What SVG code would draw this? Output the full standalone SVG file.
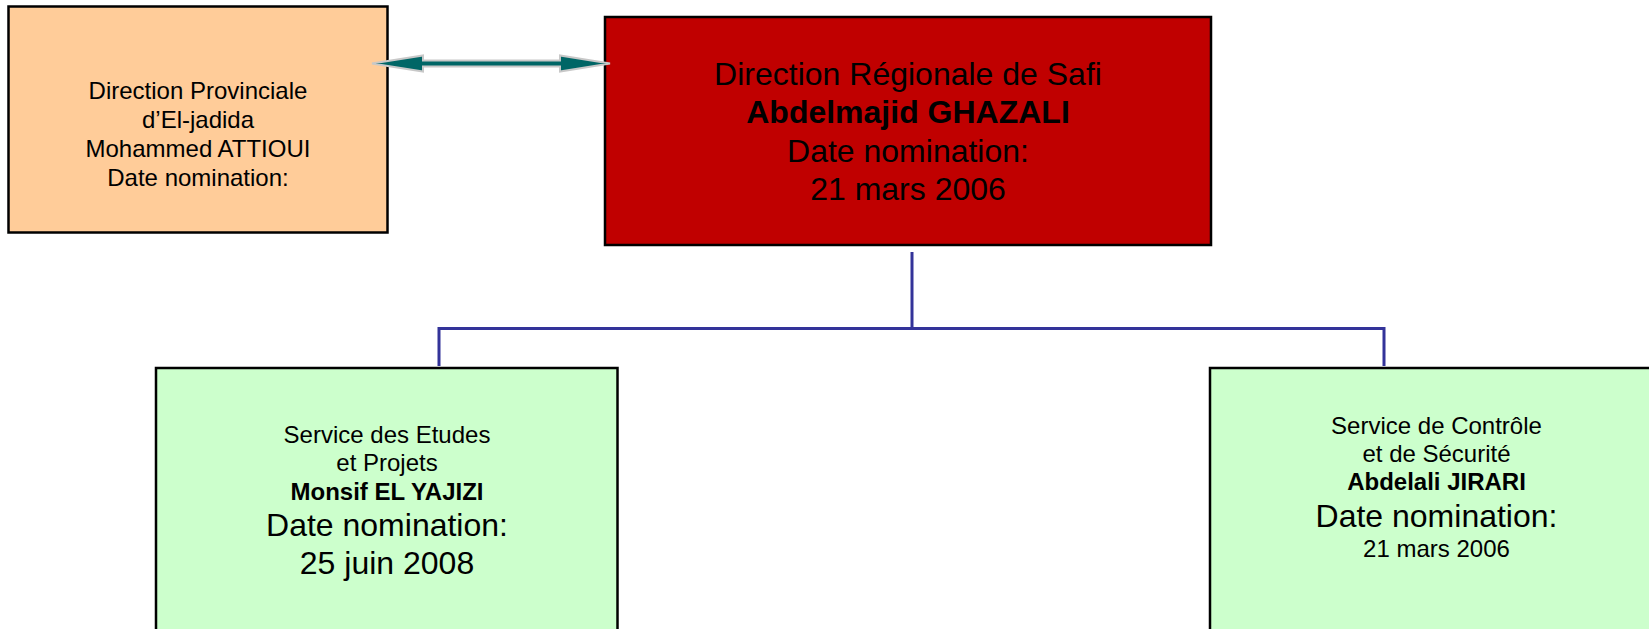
<svg xmlns="http://www.w3.org/2000/svg" width="1649" height="629" viewBox="0 0 1649 629">
<style>
.box{stroke:#000;stroke-width:2.5}
.t{font-family:"Liberation Sans",Arial,sans-serif;fill:#000;text-anchor:middle}
.s24{font-size:24px}
.s32{font-size:32px}
.b{font-weight:bold}
.conn{fill:none;stroke:#333399;stroke-width:3}
</style>
<rect width="1649" height="629" fill="#fff"/>
<g id="node-provinciale">
<rect class="box" x="8.5" y="6.5" width="379" height="226" fill="#FFCC99"/>
<text class="t s24" x="198" y="99">Direction Provinciale</text>
<text class="t s24" x="198" y="128">d’El-jadida</text>
<text class="t s24" x="198" y="157">Mohammed ATTIOUI</text>
<text class="t s24" x="198" y="185.5">Date nomination:</text>
</g>
<g id="node-regionale">
<rect class="box" x="605" y="17" width="606" height="228" fill="#C00000"/>
<text class="t s32" x="908" y="85">Direction Régionale de Safi</text>
<text class="t s32 b" x="908" y="123">Abdelmajid GHAZALI</text>
<text class="t s32" x="908" y="162">Date nomination:</text>
<text class="t s32" x="908" y="199.5">21 mars 2006</text>
</g>
<g id="node-etudes">
<rect class="box" x="156" y="368" width="461.5" height="280" fill="#CCFFCC"/>
<text class="t s24" x="387" y="442.5">Service des Etudes</text>
<text class="t s24" x="387" y="471">et Projets</text>
<text class="t s24 b" x="387" y="499.5">Monsif EL YAJIZI</text>
<text class="t s32" x="387" y="536">Date nomination:</text>
<text class="t s32" x="387" y="574">25 juin 2008</text>
</g>
<g id="node-controle">
<rect class="box" x="1210" y="368" width="454" height="280" fill="#CCFFCC"/>
<text class="t s24" x="1436.5" y="433.5">Service de Contrôle</text>
<text class="t s24" x="1436.5" y="462">et de Sécurité</text>
<text class="t s24 b" x="1436.5" y="490">Abdelali JIRARI</text>
<text class="t s32" x="1436.5" y="527">Date nomination:</text>
<text class="t s24" x="1436.5" y="557">21 mars 2006</text>
</g>
<g id="connectors">
<polyline class="conn" points="912,252 912,328.5"/>
<polyline class="conn" points="439,366 439,328.5 1384,328.5 1384,366"/>
<polygon points="372,63.5 423,55.5 423,60.5 560,60.5 560,55.5 610,63.5 560,71.5 560,66.5 423,66.5 423,71.5" fill="#006666" stroke="#c8c8c8" stroke-width="2" stroke-linejoin="miter"/>
</g>
</svg>
